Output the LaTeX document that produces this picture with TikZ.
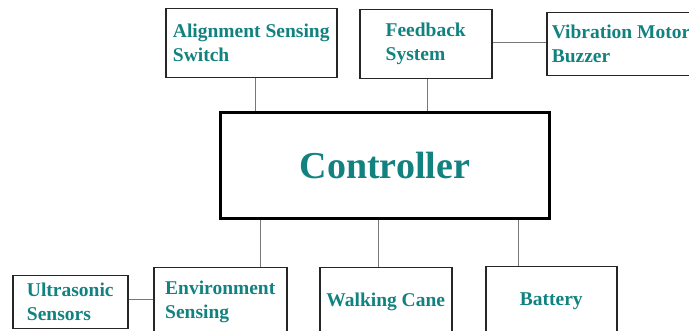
\documentclass[tikz,border=0pt]{standalone}
\usepackage{fontspec}
\setmainfont{Liberation Serif}
\definecolor{tealtxt}{RGB}{18,130,128}
\definecolor{linegray}{RGB}{120,120,120}
\begin{document}
\begin{tikzpicture}[x=1pt,y=1pt,
  box/.style={draw=black!85, line width=1.5pt, rectangle, inner sep=0pt,
    font=\bfseries\fontsize{19.5}{24}\selectfont, text=tealtxt, align=left, anchor=north west},
  bigbox/.style={box, line width=2.8pt, draw=black, font=\bfseries\fontsize{38}{44}\selectfont},
  conn/.style={draw=linegray, line width=0.9pt}]
\useasboundingbox (0,0) rectangle (689,331);
\clip (0,0) rectangle (689,331);
% top row
\node[box, minimum width=171pt, minimum height=69pt] (align) at (165,323) {Alignment Sensing\\Switch};
\node[box, minimum width=132pt, minimum height=69pt] (fb) at (359,322) {Feedback\\System};
\node[box, inner xsep=5pt, text width=170pt, align=flush left, minimum height=63pt] (vib) at (546,319) {Vibration Motor\\Buzzer};
% controller
\node[bigbox, minimum width=329pt, minimum height=106pt] (ctrl) at (219,220) {Controller};
% bottom row
\node[box, minimum width=115pt, minimum height=53pt] (us) at (12,56) {Ultrasonic\\Sensors};
\node[box, minimum width=133pt, minimum height=68pt] (env) at (153,64) {Environment\\Sensing};
\node[box, minimum width=132pt, minimum height=68pt] (cane) at (319,64) {Walking Cane};
\node[box, minimum width=131pt, minimum height=69pt] (bat) at (485,65) {Battery};
% connectors
\draw[conn] ([xshift=4.5pt]align.south) -- ([xshift=4.5pt]align.south |- ctrl.north);
\draw[conn] ([xshift=2pt]fb.south) -- ([xshift=2pt]fb.south |- ctrl.north);
\draw[conn] ([yshift=1.5pt]fb.east) -- ([yshift=1.5pt]fb.east -| vib.west);
\draw[conn] ([xshift=-124.5pt]ctrl.south) -- ([xshift=-124.5pt]ctrl.south |- env.north);
\draw[conn] ([xshift=-6.5pt]ctrl.south) -- ([xshift=-6.5pt]ctrl.south |- cane.north);
\draw[conn] ([xshift=133.5pt]ctrl.south) -- ([xshift=133.5pt]ctrl.south |- bat.north);
\draw[conn] ([yshift=2.5pt]us.east) -- ([yshift=2.5pt]us.east -| env.west);
\end{tikzpicture}
\end{document}
